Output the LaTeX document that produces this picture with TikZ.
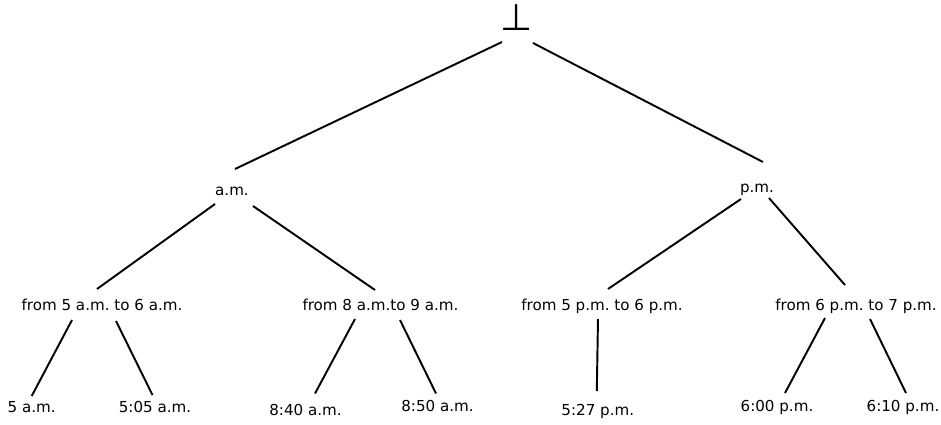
\documentclass[tikz,border=0pt]{standalone}
\usepackage{fontspec}
\setmainfont{DejaVu Sans}
\usetikzlibrary{calc}
\frenchspacing
\tikzset{lbl/.style={anchor=base,inner sep=0pt,font=\fontsize{8.6}{10}\selectfont}}
\begin{document}
\begin{tikzpicture}[x=0.02cm,y=-0.02cm,line width=1.1pt]
\useasboundingbox (0,0) rectangle (941,424);

\node [lbl,font=\fontsize{21}{21}\selectfont] (bot) at (516.5,30) {⊥};

\node [lbl] (am) at (232,195) {a.m.};
\node [lbl] (pm) at (757,192) {p.m.};

\node [lbl] (fivea) at (102,310) {from 5 a.m. to 6 a.m.};
\node [lbl] (eighta) at (380.5,310) {from 8 a.m.to 9 a.m.};
\node [lbl] (fivep) at (602,310) {from 5 p.m. to 6 p.m.};
\node [lbl] (sixp) at (856,310) {from 6 p.m. to 7 p.m.};

\node [lbl] (t500) at (31.7,412) {5 a.m.};
\node [lbl] (t505) at (155,412) {5:05 a.m.};
\node [lbl] (t840) at (305.5,415.5) {8:40 a.m.};
\node [lbl] (t850) at (437.5,411) {8:50 a.m.};
\node [lbl] (t527) at (597.8,415) {5:27 p.m.};
\node [lbl] (t600) at (777,411) {6:00 p.m.};
\node [lbl] (t610) at (903,411) {6:10 p.m.};

% top
\draw ($(bot.base)+(-14.5,12)$) -- ($(am.base)+(3,-26)$);
\draw ($(bot.base)+(16.5,13)$) -- ($(pm.base)+(6,-30)$);

% middle
\draw ($(am.base)+(-17,9)$) -- ($(fivea.base)+(-5,-21)$);
\draw ($(am.base)+(21,11)$) -- ($(eighta.base)+(-5.5,-20)$);
\draw ($(pm.base)+(-16,7)$) -- ($(fivep.base)+(6,-21)$);
\draw ($(pm.base)+(12,6)$) -- ($(sixp.base)+(-11,-25)$);

% leaves
\draw ($(fivea.base)+(-30,10)$) -- ($(t500.base)+(0,-16)$);
\draw ($(fivea.base)+(14,11)$) -- ($(t505.base)+(-2.5,-17)$);
\draw ($(eighta.base)+(-25.5,9)$) -- ($(t840.base)+(9.5,-22)$);
\draw ($(eighta.base)+(19.5,10)$) -- ($(t850.base)+(-1.5,-17.5)$);
\draw ($(fivep.base)+(-4,9)$) -- ($(t527.base)+(-1,-24)$);
\draw ($(sixp.base)+(-31,8)$) -- ($(t600.base)+(8,-18)$);
\draw ($(sixp.base)+(14,9)$) -- ($(t610.base)+(3,-18)$);
\end{tikzpicture}
\end{document}
